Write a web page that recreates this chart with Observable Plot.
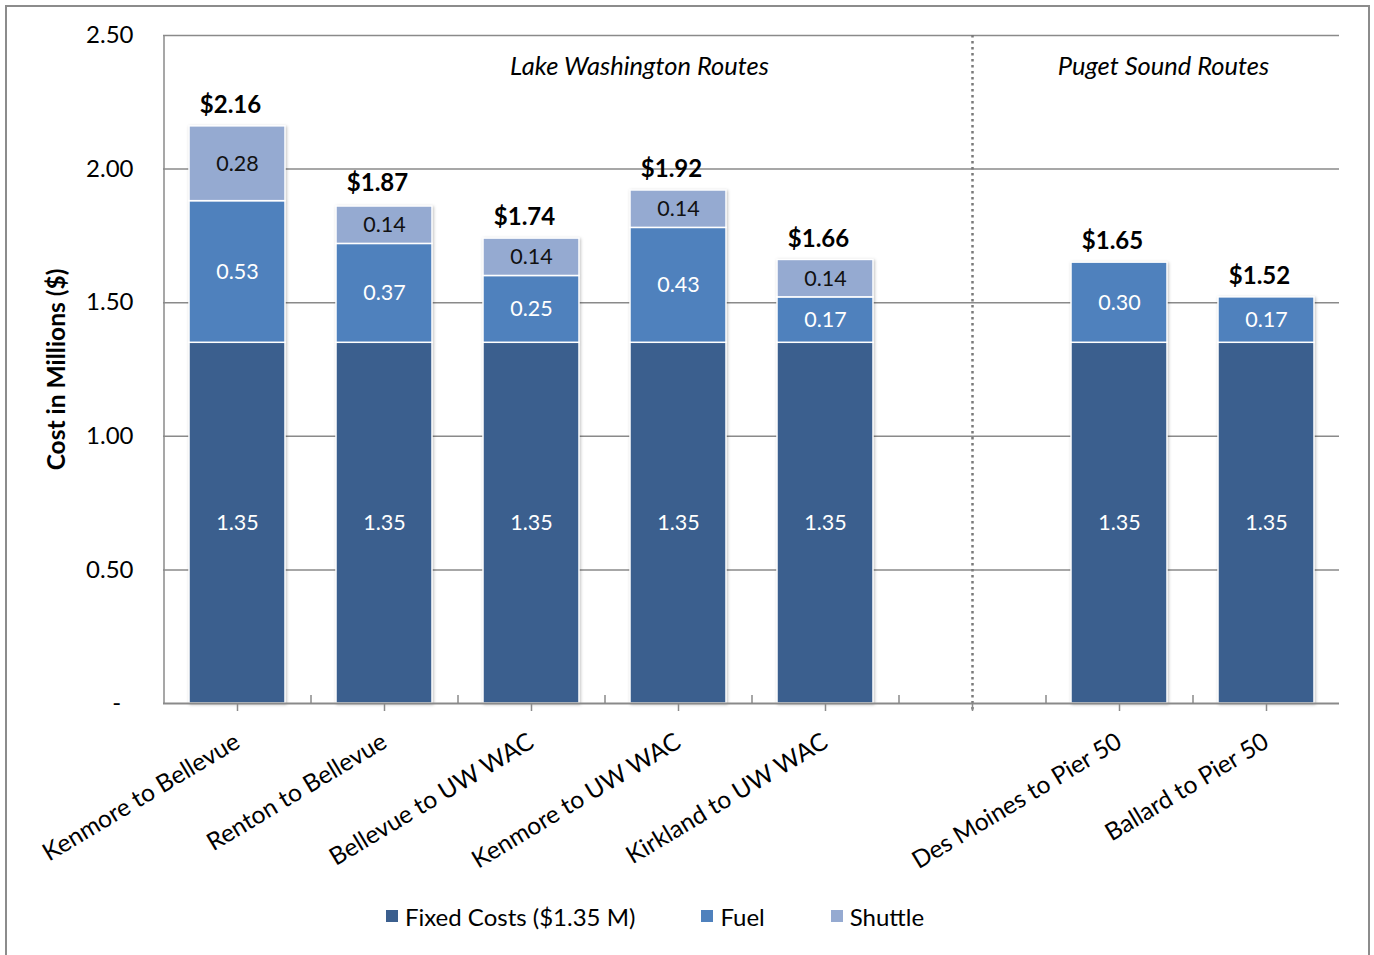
<!DOCTYPE html>
<html>
<head>
<meta charset="utf-8">
<script src="https://cdn.jsdelivr.net/npm/d3@7"></script>
<script src="https://cdn.jsdelivr.net/npm/@observablehq/plot@0.6"></script>
<style>
  html, body { margin: 0; padding: 0; background: #fff; }
  #wrap { position: relative; width: 1374px; height: 955px; overflow: hidden; font-family: Lato, "Open Sans", sans-serif; }
  #border { position: absolute; left: 5px; top: 5px; width: 1361px; height: 1000px; border: 2px solid #8c8c8c; pointer-events: none; }
  #chart { position: absolute; left: 0; top: 0; }
  #legend { position: absolute; left: 0; top: 890px; width: 1374px; height: 52px; display: flex; justify-content: center; align-items: center; box-sizing: border-box; padding-right: 64px; font-size: 24px; color: #000; }
  .item { display: flex; align-items: center; margin: 0 33px; }
  .sw { width: 12px; height: 12px; margin-right: 7px; }
</style>
</head>
<body>
<div id="wrap">
  <div id="chart"></div>
  <div id="legend"></div>
  <div id="border"></div>
</div>
<script>
// ---- data ----
const routes = ["Kenmore to Bellevue", "Renton to Bellevue", "Bellevue to UW WAC", "Kenmore to UW WAC", "Kirkland to UW WAC", " ", "Des Moines to Pier 50", "Ballard to Pier 50"];
const fixedCosts = [1.35, 1.35, 1.35, 1.35, 1.35, null, 1.35, 1.35];
const fuel       = [0.53, 0.37, 0.25, 0.43, 0.17, null, 0.30, 0.17];
const shuttle    = [0.28, 0.14, 0.14, 0.14, 0.14, null, 0, 0];
const totals     = [2.16, 1.87, 1.74, 1.92, 1.66, null, 1.65, 1.52];
const series = ["Fixed Costs ($1.35 M)", "Fuel", "Shuttle"];
const colors = ["#3B5F8E", "#4F81BD", "#95AAD1"];
const yTicks = [0, 0.5, 1.0, 1.5, 2.0, 2.5];
const sectionLabels = ["Lake Washington Routes", "Puget Sound Routes"];
const gapRoute = routes[5];

// ---- build stacked rows ----
const seriesValues = [fixedCosts, fuel, shuttle];
const rows = [];
routes.forEach((r, i) => {
  if (fixedCosts[i] == null) return;
  let base = 0;
  seriesValues.forEach((arr, j) => {
    const v = arr[i];
    if (v > 0) {
      rows.push({route: r, series: series[j], value: v, y1: base, y2: base + v});
      base += v;
    }
  });
});
const totalRows = routes.map((r, i) => ({route: r, total: totals[i]})).filter(d => d.total != null);

const W = 1374, H = 890, ML = 163, MR = 35, MT = 35, MB = 187;
const halfStep = (W - ML - MR) / routes.length / 2;
const gray = "#8a8a8a";

const chart = Plot.plot({
  width: W, height: H,
  marginLeft: ML, marginRight: MR, marginTop: MT, marginBottom: MB,
  style: {fontFamily: "Lato, 'Open Sans', sans-serif", fontSize: "24px", color: "#000", background: "transparent", overflow: "visible"},
  x: {domain: routes, paddingInner: 0.35, paddingOuter: 0.175},
  y: {domain: [0, 2.5]},
  color: {domain: series, range: colors},
  marks: [
    Plot.ruleY(yTicks.filter(d => d > 0), {y: d => d, stroke: gray, strokeWidth: 1.5}),
    Plot.ruleX([gapRoute], {x: d => d, y1: 2.5, y2: 0, insetBottom: -9, stroke: "#7a7a7a", strokeWidth: 2.5, strokeDasharray: "2.5,3.5"}),
    Plot.barY(rows, {x: "route", y1: "y1", y2: "y2", fill: "series", stroke: "white", strokeWidth: 1.5}),
    Plot.text(rows.filter(d => d.series !== "Shuttle"), {x: "route", y: d => (d.y1 + d.y2) / 2, text: d => d.value.toFixed(2), fill: "white", fontSize: 21.5}),
    Plot.text(rows.filter(d => d.series === "Shuttle"), {x: "route", y: d => (d.y1 + d.y2) / 2, text: d => d.value.toFixed(2), fill: "#111", fontSize: 21.5}),
    Plot.text(totalRows, {x: "route", y: "total", text: d => "$" + d.total.toFixed(2), dy: -21, dx: -7, fontWeight: "bold", fontSize: 24}),
    Plot.text([sectionLabels[0]], {x: [routes[3]], text: d => d, frameAnchor: "top", lineAnchor: "middle", dy: 31, dx: -39, fontStyle: "italic", fontSize: 25.5}),
    Plot.text([sectionLabels[1]], {x: [routes[6]], text: d => d, frameAnchor: "top", lineAnchor: "middle", dy: 31, dx: 44, fontStyle: "italic", fontSize: 25.5}),
    Plot.ruleY([0], {stroke: gray, strokeWidth: 2}),
    Plot.ruleX([routes[0]], {x: d => d, y1: 0, y2: 2.5, dx: -halfStep, stroke: gray, strokeWidth: 1.5}),
    Plot.ruleX(routes.slice(1), {x: d => d, y1: 0, y2: 0.03, dx: -halfStep, stroke: gray, strokeWidth: 1.5}),
    Plot.ruleX([routes[routes.length - 1]], {x: d => d, y1: 0, y2: 0.03, insetBottom: -8, dx: halfStep, stroke: gray, strokeWidth: 1.5}),
    Plot.axisX({tickSize: 8, tickPadding: 28, tickRotate: -31, stroke: gray, strokeWidth: 1.5, strokeOpacity: 1, label: null, fontSize: 24.5}),
    Plot.axisY({ticks: yTicks, tickSize: 0, tickPadding: 30, tickFormat: d => d === 0 ? "-\u00a0\u00a0" : d.toFixed(2), label: null, fontSize: 24}),
    Plot.text(["Cost in Millions ($)"], {frameAnchor: "left", textAnchor: "middle", dx: -106, rotate: -90, fontWeight: "bold", fontSize: 24.5})
  ]
});
document.getElementById("chart").appendChild(chart);

// subtle bar shadow
const barG = chart.querySelector('g[aria-label="bar"]');
if (barG) barG.style.filter = "drop-shadow(1.5px 1.5px 1.5px rgba(0,0,0,0.25))";

// legend
const leg = document.getElementById("legend");
series.forEach((s, i) => {
  const it = document.createElement("div");
  it.className = "item";
  it.innerHTML = `<span class="sw" style="background:${colors[i]}"></span><span>${s}</span>`;
  leg.appendChild(it);
});
</script>
</body>
</html>
